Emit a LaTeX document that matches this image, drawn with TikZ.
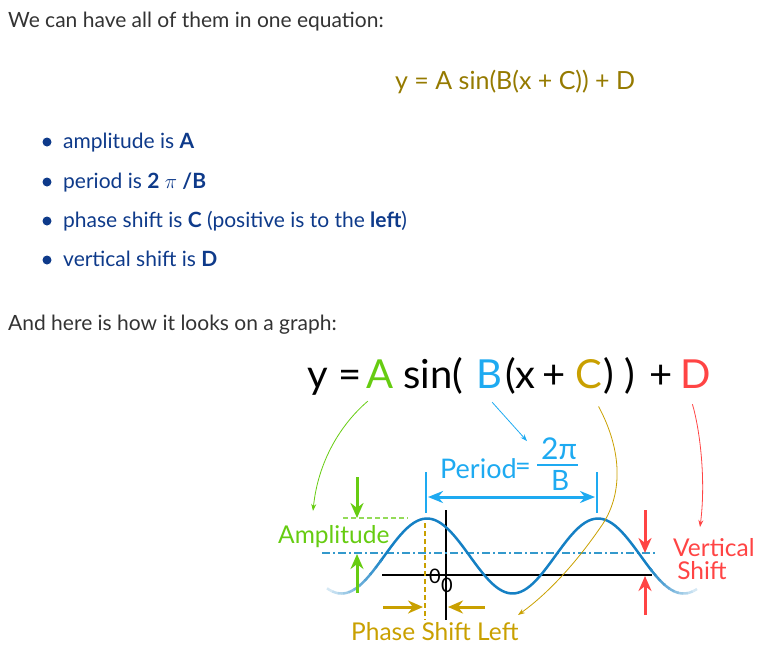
\documentclass[tikz,border=0pt]{standalone}
\usepackage{fontspec}
\setmainfont{Lato}
\usetikzlibrary{arrows.meta,calc}
\definecolor{bodygray}{HTML}{333333}
\definecolor{eqolive}{HTML}{957A00}
\definecolor{listblue}{HTML}{0E3A8A}
\definecolor{ampgreen}{HTML}{66CC11}
\definecolor{perblue}{HTML}{1EAAF1}
\definecolor{phasegold}{HTML}{C9A000}
\definecolor{vshred}{HTML}{FF4444}
\definecolor{wavecol}{HTML}{1580C4}
\definecolor{midcol}{HTML}{3399CC}

\begin{document}
\begin{tikzpicture}[x=1pt, y=-1pt,
    txt/.style={inner sep=0pt, anchor=base west, font=\fontsize{21}{25}\selectfont, text=bodygray},
    item/.style={txt, text=listblue},
    big/.style={inner sep=0pt, anchor=base west, font=\fontsize{40}{44}\selectfont},
    lbl/.style={inner sep=0pt, anchor=base west, font=\fontsize{24.5}{28}\selectfont},
    perlbl/.style={lbl, text=perblue, font=\fontsize{27}{30}\selectfont},
    link/.style={-{Stealth[length=7pt,width=5pt]}, line width=0.8pt},
    fat/.style={-{Stealth[length=15pt,width=13pt]}, line width=3pt},
    sine/.style={line width=2.5pt, draw=wavecol}]

    \useasboundingbox (0,0) rectangle (767,653);

    % Text above the graph
    \node[txt] (intro) at (8,27) {We can have all of them in one equation:};
    \node[txt, text=eqolive, font=\fontsize{25}{29}\selectfont] (eqtop) at (395,89) {y = A sin(B(x + C)) + D};

    % Bullet list
    \foreach \yy in {142,182,221,260}
        \fill[listblue] (47,\yy) circle (4.5);
    \node[item] (itemamp) at (63,148) {amplitude is \textbf{A}};
    \node[item] (itemper) at (63,188) {period is \textbf{2} $\pi$ \textbf{/B}};
    \node[item] (itemphase) at (63,227) {phase shift is \textbf{C} (positive is to the \textbf{left})};
    \node[item] (itemvert) at (63,266) {vertical shift is \textbf{D}};

    \node[txt] (graphintro) at (8,330) {And here is how it looks on a graph:};

    % Big equation
    \node[big] (eqy) at (307,388) {y =};
    \node[big, text=ampgreen] (eqA) at (366,388) {A};
    \node[big] (eqsin) at (403,388) {sin(};
    \node[big, text=perblue] (eqB) at (476,388) {B};
    \node[big] (eqx) at (505,388) {(x\,+};
    \node[big, text=phasegold] (eqC) at (575,388) {C};
    \node[big] (eqpa) at (603,388) {)};
    \node[big] (eqpb) at (624,388) {)};
    \node[big] (eqplus) at (649,388) {+};
    \node[big, text=vshred] (eqD) at (680,388) {D};

    % Period label
    \node[perlbl] (periodlbl) at (440,478) {Period};
    \node[perlbl] (periodeq) at (515,475) {=};
    \node[perlbl, font=\fontsize{30}{33}\selectfont] (twopi) at (541,459) {2π};
    \node[perlbl, font=\fontsize{28}{31}\selectfont] (fracB) at (551,490) {B};
    \draw[perblue, line width=1.5pt] (537,465) -- (578,465);

    % Axes and midline
    \draw[line width=2pt] (382,575) -- (652,575);
    \draw[line width=2pt] (446,510) -- (446,620);
    \draw[midcol, line width=1.2pt, dash pattern=on 8pt off 3pt on 2pt off 3pt] (322,553) -- (655,553);
    \node[txt, text=black, font=\fontsize{20}{24}\selectfont] (zeroa) at (429,583) {0};
    \node[txt, text=black, font=\fontsize{20}{24}\selectfont] (zerob) at (441,592) {0};

    % Wave with faded ends
    \draw[sine] plot[domain=380:652, samples=90] (\x,{556-37.5*cos(2.10526*(\x-427))});
    \foreach \i in {0,...,9} {
        \pgfmathsetmacro\xa{327+\i*5.4}
        \pgfmathsetmacro\xb{\xa+6.2}
        \pgfmathtruncatemacro\op{18+\i*8}
        \draw[sine, draw=wavecol!\op!white] plot[domain=\xa:\xb, samples=4] (\x,{556-37.5*cos(2.10526*(\x-427))});
        \pgfmathsetmacro\xc{697-\i*4.6}
        \pgfmathsetmacro\xd{\xc-5.4}
        \draw[sine, draw=wavecol!\op!white] plot[domain=\xd:\xc, samples=4] (\x,{556-37.5*cos(2.10526*(\x-427))});
    }

    % Period marks
    \draw[perblue, line width=2.5pt] (426,472) -- (426,513);
    \draw[perblue, line width=2.5pt] (597,472) -- (597,513);
    \draw[perblue, {Stealth[length=15pt,width=12pt]}-{Stealth[length=15pt,width=12pt]}, line width=3pt] (428,497) -- (595,497);

    % Amplitude
    \draw[ampgreen!70!white, line width=1.2pt, dash pattern=on 5pt off 3pt] (343,518) -- (408,518);
    \draw[fat, ampgreen] (357,477) -- (357,518);
    \draw[fat, ampgreen] (357,593) -- (357,554);
    \node[lbl, text=ampgreen] (amplbl) at (278,543) {Amplitude};

    % Phase shift
    \draw[phasegold, line width=1.2pt, dash pattern=on 5pt off 3pt] (425,523) -- (425,620);
    \draw[fat, phasegold] (383,607) -- (423,607);
    \draw[fat, phasegold] (485,607) -- (448,607);
    \node[lbl, text=phasegold] (phaselbl) at (351,640) {Phase Shift Left};

    % Vertical shift
    \draw[fat, vshred] (645,510) -- (645,553);
    \draw[fat, vshred] (645,615) -- (645,576);
    \node[lbl, text=vshred, align=left, anchor=north west] (vertlbl) at (673,538) {Vertical\\[-5pt]\,Shift};

    % Connectors from the equation
    \coordinate (ampend) at (313,511);
    \coordinate (phaseend) at (518,615);
    \coordinate (vertend) at (700,527);
    \draw[link, ampgreen] ($(eqA.south)+(-12,13)$) .. controls (340,425) and (318,462) .. (ampend);
    \draw[link, perblue] ($(eqB.south)+(3,14)$) -- ($(twopi.north west)+(-14,4)$);
    \draw[link, phasegold] ($(eqC.south)+(10,18)$) .. controls (622,450) and (624,495) .. (600,528) .. controls (578,560) and (550,592) .. (phaseend);
    \draw[link, vshred] ($(eqD.south)+(-3,16)$) .. controls (700,430) and (706,480) .. (vertend);
\end{tikzpicture}
\end{document}
